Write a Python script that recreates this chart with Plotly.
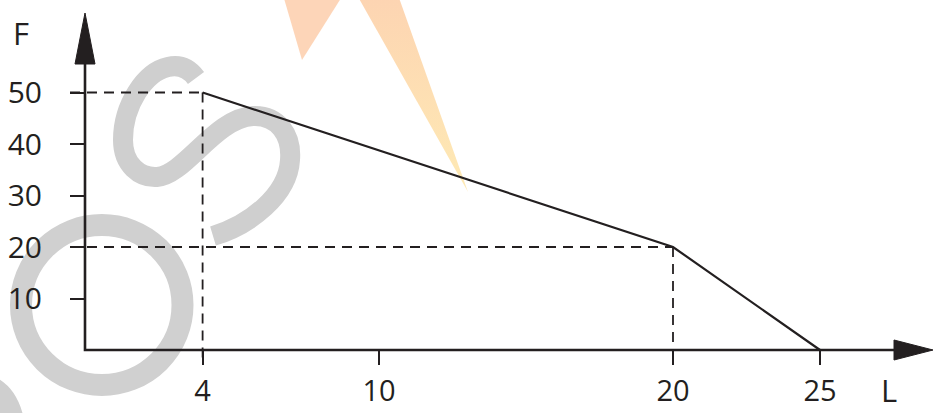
import plotly.graph_objects as go

# ---------------- data ----------------
L_vals = [4, 20, 25]          # breakpoints of the curve (x)
F_vals = [50, 20, 0]          # F values at those breakpoints
guide_L = [4, 20]             # dashed guide points
guide_F = [50, 20]
x_ticks = [4, 10, 20, 25]
x_tick_labels = ["4", "10", "20", "25"]
y_ticks = [10, 20, 30, 40, 50]
y_tick_labels = ["10", "20", "30", "40", "50"]
x_title = "L"
y_title = "F"

# ---------------- geometry ----------------
W, H = 933, 413
OX, OY = 85, 350          # pixel position of the origin
SX, SY = 29.4, 5.15       # pixels per unit
x_range = [-OX / SX, (W - OX) / SX]
y_range = [-(H - OY) / SY, OY / SY]
INK = "#231f20"
FONT = "Open Sans"


def dx(px):
    return (px - OX) / SX


def dy(py):
    return (OY - py) / SY


fig = go.Figure()

# --- decorative watermark: lightning wedges ---
fig.add_trace(go.Scatter(
    x=[dx(283), dx(343), dx(302), dx(283)], y=[dy(-5), dy(-5), dy(60), dy(-5)],
    mode="lines", line=dict(width=0), fill="toself", fillcolor="rgba(253,208,176,0.9)",
    hoverinfo="skip", showlegend=False))
fig.add_trace(go.Scatter(
    x=[dx(357), dx(398), dx(468), dx(357)], y=[dy(-5), dy(-5), dy(192), dy(-5)],
    mode="lines", line=dict(width=0), fill="toself",
    fillgradient=dict(type="vertical", colorscale=[[0, "#feeab4"], [1, "#fdd4b2"]]),
    hoverinfo="skip", showlegend=False))

# --- axes lines ---
fig.add_trace(go.Scatter(
    x=[dx(895), 0, 0], y=[0, 0, dy(62)], mode="lines",
    line=dict(color=INK, width=2.6), hoverinfo="skip", showlegend=False))
# arrow heads
fig.add_trace(go.Scatter(
    x=[dx(75), dx(95), 0, dx(75)], y=[dy(64), dy(64), dy(13), dy(64)],
    mode="lines", line=dict(color=INK, width=1), fill="toself", fillcolor=INK,
    hoverinfo="skip", showlegend=False))
fig.add_trace(go.Scatter(
    x=[dx(894), dx(894), dx(933), dx(894)], y=[dy(340), dy(360), 0, dy(340)],
    mode="lines", line=dict(color=INK, width=1), fill="toself", fillcolor=INK,
    hoverinfo="skip", showlegend=False))

# --- dashed guides ---
for gl, gf in zip(guide_L, guide_F):
    fig.add_trace(go.Scatter(
        x=[dx(70), gl], y=[gf, gf], mode="lines",
        line=dict(color=INK, width=1.8, dash="10px,7px"),
        hoverinfo="skip", showlegend=False))
    fig.add_trace(go.Scatter(
        x=[gl, gl], y=[gf, dy(364)], mode="lines",
        line=dict(color=INK, width=1.8, dash="10px,7px"),
        hoverinfo="skip", showlegend=False))

# --- data line ---
fig.add_trace(go.Scatter(
    x=L_vals, y=F_vals, mode="lines",
    line=dict(color=INK, width=2.2), showlegend=False))

# watermark gray letters (pixel paths anchored at top-left of paper)
S_path = ("M196,-78 Q185,-63 168,-67 C145,-72 123,-105 123,-140 "
          "C123,-165 140,-178 157,-177 C185,-175 215,-118 253,-116 "
          "C278,-115 292,-135 290,-160 C288,-195 250,-225 213,-236")
corner_path = "M-15,-385 Q8,-392 14,-425"
shapes = [
    dict(type="circle", xref="paper", yref="paper",
         x0=21 / W, x1=182.5 / W, y0=1 - 385 / H, y1=1 - 225 / H,
         line=dict(color="#d0d0d0", width=22), fillcolor="rgba(0,0,0,0)", layer="below"),
    dict(type="path", xref="paper", yref="paper", xsizemode="pixel", ysizemode="pixel",
         xanchor=0, yanchor=1, path=S_path,
         line=dict(color="#cfcfcf", width=20), fillcolor="rgba(0,0,0,0)", layer="below"),
    dict(type="path", xref="paper", yref="paper", xsizemode="pixel", ysizemode="pixel",
         xanchor=0, yanchor=1, path=corner_path,
         line=dict(color="#cfcfcf", width=22), fillcolor="rgba(0,0,0,0)", layer="below"),
]

fig.update_layout(
    width=W, height=H, autosize=False,
    margin=dict(l=0, r=0, t=0, b=0, pad=0, autoexpand=False),
    paper_bgcolor="white", plot_bgcolor="rgba(0,0,0,0)",
    shapes=shapes,
    xaxis=dict(range=x_range, anchor="free", position=(H - OY) / H,
               showgrid=False, zeroline=False, showline=False, automargin=False,
               tickmode="array", tickvals=x_ticks, ticktext=x_tick_labels,
               ticks="outside", ticklen=14, tickwidth=1.8, tickcolor=INK,
               ticklabelstandoff=1,
               tickfont=dict(family=FONT, size=29, color=INK)),
    yaxis=dict(range=y_range, anchor="free", position=OX / W,
               showgrid=False, zeroline=False, showline=False, automargin=False,
               tickmode="array", tickvals=y_ticks, ticktext=y_tick_labels,
               ticks="outside", ticklen=15, tickwidth=1.8, tickcolor=INK,
               ticklabelstandoff=22,
               tickfont=dict(family=FONT, size=30, color=INK)),
    annotations=[
        dict(text=y_title, xref="paper", yref="paper", x=21 / W, y=1 - 33 / H,
             xanchor="center", yanchor="middle", showarrow=False,
             font=dict(family=FONT, size=31, color=INK)),
        dict(text=x_title, xref="paper", yref="paper", x=889 / W, y=1 - 390 / H,
             xanchor="center", yanchor="middle", showarrow=False,
             font=dict(family=FONT, size=31, color=INK)),
    ],
)

fig.write_html("out.html",
               config={"responsive": False, "displayModeBar": False},
               post_script="document.body.style.margin='0';document.body.style.overflow='hidden';")
